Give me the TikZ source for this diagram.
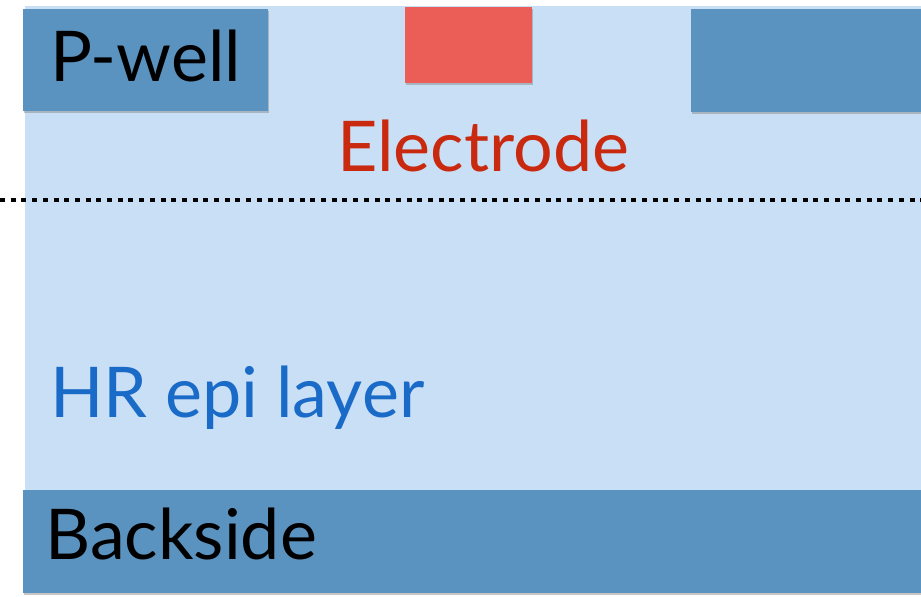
\documentclass[tikz,border=0pt]{standalone}
\usepackage{fontspec}
\setmainfont{Lato}
\usepackage{xcolor}
\usetikzlibrary{shadows}
\definecolor{epiblue}{HTML}{C9DFF5}
\definecolor{wellblue}{HTML}{5B93C0}
\definecolor{elecred}{HTML}{EB5E57}
\definecolor{electext}{HTML}{C8290F}
\definecolor{hrtext}{HTML}{1A6AC8}
\tikzset{
  layer/.style={fill=wellblue, drop shadow={opacity=0.45, shadow xshift=1pt, shadow yshift=-2.5pt}},
  label/.style={inner sep=0pt, font=\fontsize{70}{82}\selectfont}
}

\begin{document}
\begin{tikzpicture}[x=1pt, y=1pt]
        \useasboundingbox (0, 0) rectangle (921, 597);
        \fill[white] (0, 0) rectangle (921, 597);

        % epi layer
        \fill[epiblue] (25, 107) rectangle (921, 591);
        \draw[line width=4pt, dash pattern=on 5pt off 5.7pt] (0, 397) -- (921, 397);

        % wells and electrode
        \fill[layer] (23, 486) rectangle (268, 588);
        \fill[layer] (691, 485) rectangle (921, 588);
        \fill[layer, fill=elecred] (405, 514) rectangle (532, 590);
        \fill[layer] (23, 4) rectangle (921, 107);

        \node[label, anchor=base west] (pwell) at (50, 515) {P-well};
        \node[label, anchor=base, text=electext] (electrode) at (483, 425) {Electrode};
        \node[label, anchor=base west, text=hrtext] (epi) at (50, 179) {HR epi layer};
        \node[label, anchor=base west] (backside) at (45, 37) {Backside};

    \end{tikzpicture}
\end{document}
